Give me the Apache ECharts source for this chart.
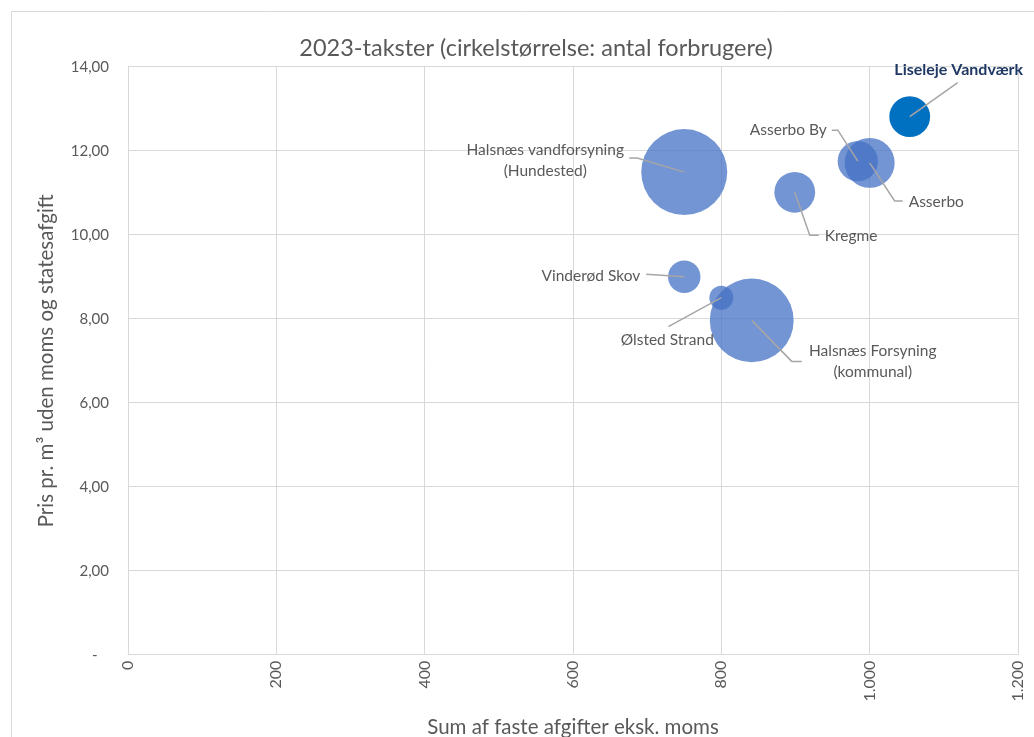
<!DOCTYPE html>
<html>
<head>
<meta charset="utf-8">
<script src="https://cdn.jsdelivr.net/npm/echarts@6/dist/echarts.min.js"></script>
<style>
html,body{margin:0;padding:0;background:#fff;}
#chart{width:1034px;height:737px;}
</style>
</head>
<body>
<div id="chart"></div>
<script>
// ---- DATA ----
const categories = [
  'Liseleje Vandværk',
  'Asserbo By',
  'Asserbo',
  'Kregme',
  'Halsnæs vandforsyning\n(Hundested)',
  'Vinderød Skov',
  'Ølsted Strand',
  'Halsnæs Forsyning\n(kommunal)'
];
const fixedFees   = [1054, 984, 1000, 899, 750, 750, 800, 841];          // Sum af faste afgifter eksk. moms
const pricePerM3  = [12.81, 11.75, 11.71, 11.01, 11.49, 9.00, 8.50, 7.96]; // Pris pr. m3
const customers   = [900, 880, 1350, 900, 4000, 570, 310, 3800];          // antal forbrugere (bubble size)
const xTicks = [0, 200, 400, 600, 800, 1000, 1200];
const yTicks = [0, 2, 4, 6, 8, 10, 12, 14];

// ---- STYLE / LAYOUT (not data) ----
const highlightIndex = 0;
const FONT = 'Lato';
const GRAY = '#595959';
const maxDiameter = 86;
const maxCustomers = Math.max.apply(null, customers);
// leader line points and label anchor, as pixel offsets from bubble centre
const labelLayouts = [
  {path: [[48, -34]],           text: [49, -47],   align: 'center'},
  {path: [[-20, -31], [-26, -31]], text: [-31, -31], align: 'right'},
  {path: [[25, 38], [33, 38]],  text: [39, 39.5],  align: 'left'},
  {path: [[15, 43], [24, 43]],  text: [30, 43.5],  align: 'left'},
  {path: [[-47, -14], [-55, -14]], text: [-139, -12], align: 'center'},
  {path: [[-38, -2.5]],         text: [-44, -1],   align: 'right'},
  {path: [[-53, 29]],           text: [-54, 42],   align: 'center'},
  {path: [[40, 41], [50, 41]],  text: [121, 41.5], align: 'center'}
];

const points = categories.map((n, i) => [fixedFees[i], pricePerM3[i], customers[i], n]);

const chart = echarts.init(document.getElementById('chart'), null, {renderer: 'canvas'});
const option = {
  animation: false,
  backgroundColor: '#ffffff',
  textStyle: {fontFamily: FONT},
  title: {
    text: '2023-takster (cirkelstørrelse: antal forbrugere)',
    left: 531, top: 31, textAlign: 'center',
    textStyle: {fontFamily: FONT, fontSize: 23.5, fontWeight: 'normal', color: GRAY}
  },
  graphic: [{
    type: 'rect', silent: true, z: -10,
    shape: {x: 11.5, y: 11.5, width: 1040, height: 740},
    style: {fill: 'none', stroke: '#D9D9D9', lineWidth: 1}
  }],
  grid: {left: 128, top: 66.7, right: 16, bottom: 82.3, containLabel: false, outerBoundsMode: 'none'},
  xAxis: {
    type: 'value', min: xTicks[0], max: xTicks[xTicks.length - 1], interval: xTicks[1] - xTicks[0],
    name: 'Sum af faste afgifter eksk. moms', nameLocation: 'middle', nameGap: 62,
    nameTextStyle: {fontFamily: FONT, fontSize: 20.5, color: GRAY},
    axisLine: {show: true, lineStyle: {color: '#D9D9D9', width: 1}},
    axisTick: {show: false},
    splitLine: {show: true, lineStyle: {color: '#D9D9D9', width: 1}},
    axisLabel: {
      rotate: 90, margin: 6, fontFamily: FONT, fontSize: 16, color: GRAY,
      formatter: v => v.toString().replace(/\B(?=(\d{3})+(?!\d))/g, '.')
    }
  },
  yAxis: {
    type: 'value', min: yTicks[0], max: yTicks[yTicks.length - 1], interval: yTicks[1] - yTicks[0],
    name: 'Pris pr. m³ uden moms og statesafgift', nameLocation: 'middle', nameGap: 71,
    nameTextStyle: {fontFamily: FONT, fontSize: 20.5, color: GRAY},
    axisLine: {show: true, lineStyle: {color: '#D9D9D9', width: 1}},
    axisTick: {show: false},
    splitLine: {show: true, lineStyle: {color: '#D9D9D9', width: 1}},
    axisLabel: {
      margin: 19, fontFamily: FONT, fontSize: 15, color: GRAY,
      formatter: v => v === 0 ? '-   ' : v.toFixed(2).replace('.', ',')
    }
  },
  series: [
    {
      type: 'scatter',
      data: points,
      symbolSize: d => maxDiameter * Math.sqrt(d[2] / maxCustomers),
      itemStyle: {
        color: p => p.dataIndex === highlightIndex ? '#0070C0' : 'rgba(68,114,196,0.75)',
        opacity: 1
      },
      emphasis: {disabled: true},
      z: 2
    },
    {
      type: 'custom',
      data: points,
      silent: true,
      clip: false,
      z: 5,
      encode: {x: 0, y: 1},
      renderItem: function (params, api) {
        const i = params.dataIndex;
        const c = api.coord([api.value(0), api.value(1)]);
        const L = labelLayouts[i];
        const pts = [[c[0], c[1]]].concat(L.path.map(p => [c[0] + p[0], c[1] + p[1]]));
        const hl = i === highlightIndex;
        return {
          type: 'group',
          children: [
            {
              type: 'polyline',
              shape: {points: pts},
              style: {stroke: '#A6A6A6', lineWidth: 1.5, fill: null}
            },
            {
              type: 'text',
              style: {
                text: categories[i],
                x: c[0] + L.text[0], y: c[1] + L.text[1],
                align: L.align, verticalAlign: 'middle',
                fill: hl ? '#1F3864' : GRAY,
                fontFamily: FONT, fontSize: hl ? 16 : 15.5, fontWeight: hl ? 'bold' : 'normal',
                lineHeight: 21
              }
            }
          ]
        };
      }
    }
  ]
};
chart.setOption(option);
</script>
</body>
</html>
